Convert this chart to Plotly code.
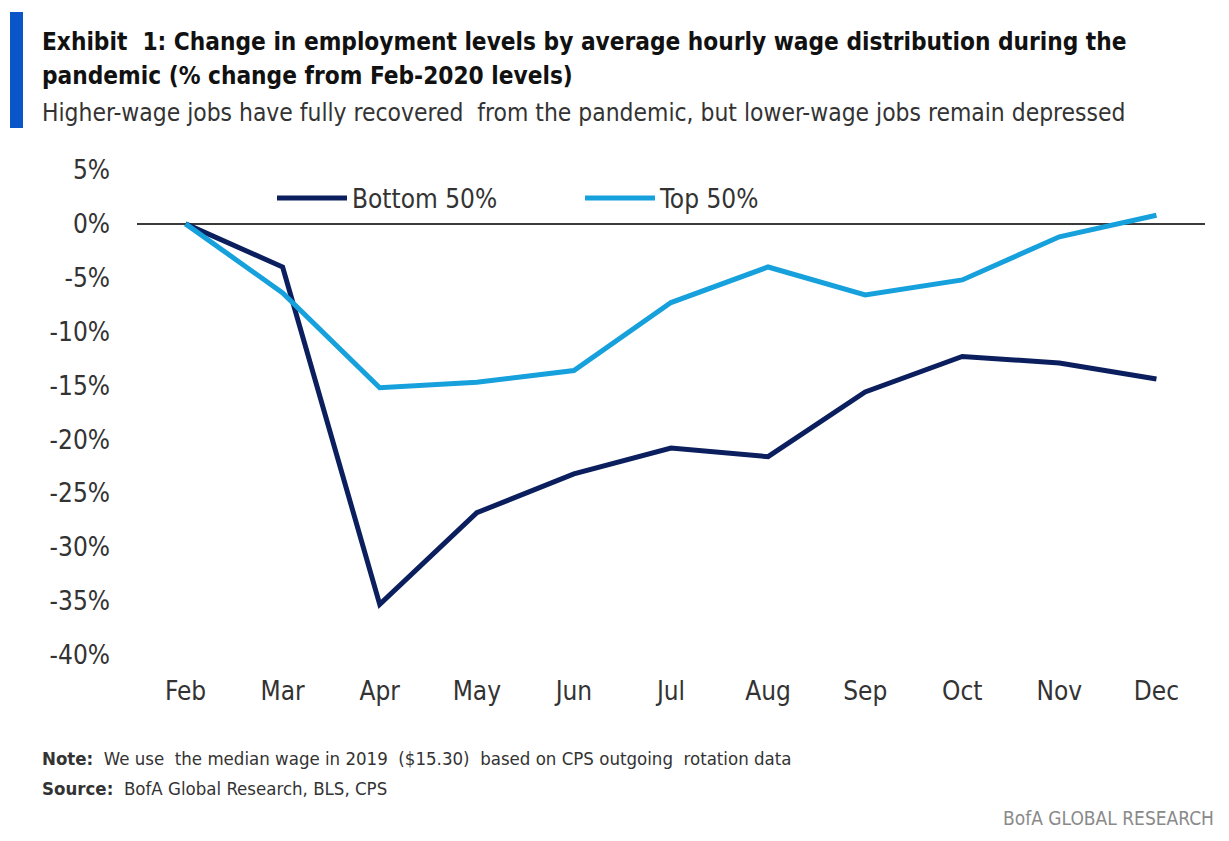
import plotly.graph_objects as go

months = ["Feb", "Mar", "Apr", "May", "Jun", "Jul", "Aug", "Sep", "Oct", "Nov", "Dec"]
bottom_50 = [0.0, -4.0, -35.3, -26.8, -23.2, -20.8, -21.6, -15.6, -12.3, -12.9, -14.4]
top_50 = [0.0, -6.4, -15.2, -14.7, -13.6, -7.3, -4.0, -6.6, -5.2, -1.2, 0.8]
y_ticks = [5, 0, -5, -10, -15, -20, -25, -30, -35, -40]
y_tick_labels = [f"{v}%" for v in y_ticks]

W, H = 1229, 841
L, R, T, B = 137, 24, 170, 186
PW, PH = W - L - R, H - T - B


def px(x):
    return (x - L) / PW


def py(y):
    return (H - B - y) / PH


FONT = "DejaVu Sans Condensed, Liberation Sans Narrow, sans-serif"
NAVY = "#0b1f5e"
LIGHT = "#16a0dc"

fig = go.Figure()
fig.add_trace(go.Scatter(x=months, y=bottom_50, mode="lines", name="Bottom 50%",
                         line=dict(color=NAVY, width=5)))
fig.add_trace(go.Scatter(x=months, y=top_50, mode="lines", name="Top 50%",
                         line=dict(color=LIGHT, width=5)))

fig.add_hline(y=0, line=dict(color="#3a3a3a", width=2), layer="below")

fig.update_layout(
    width=W, height=H,
    margin=dict(l=L, r=R, t=T, b=B),
    paper_bgcolor="white", plot_bgcolor="white",
    font=dict(family=FONT, color="#333333"),
    showlegend=True,
    legend=dict(orientation="h", x=px(272), y=py(198), xanchor="left", yanchor="middle",
                font=dict(size=26, color="#333333", family=FONT), itemwidth=70,
                bgcolor="rgba(0,0,0,0)", traceorder="normal", entrywidth=223),
    xaxis=dict(range=[-0.5, 10.5], showgrid=False, zeroline=False, showline=False,
               ticks="", tickfont=dict(size=26, color="#333333"), ticklabelstandoff=18),
    yaxis=dict(range=[-40, 5], tickvals=y_ticks, ticktext=y_tick_labels,
               showgrid=False, zeroline=False, showline=False, ticks="",
               tickfont=dict(size=26, color="#333333"), ticklabelstandoff=26),
)

# blue side bar
fig.add_shape(type="rect", xref="paper", yref="paper",
              x0=px(10), x1=px(23), y0=py(12), y1=py(128),
              fillcolor="#0a55c8", line=dict(width=0))

annots = [
    dict(x=px(40), y=py(42), text="<b>Exhibit  1: Change in employment levels by average hourly wage distribution during the</b>",
         size=24.2, color="#111111"),
    dict(x=px(40), y=py(76), text="<b>pandemic (% change from Feb-2020 levels)</b>", size=24.2, color="#111111"),
    dict(x=px(40), y=py(112), text="Higher-wage jobs have fully recovered  from the pandemic, but lower-wage jobs remain depressed",
         size=24.4, color="#333333"),
    dict(x=px(40), y=py(758), text="<b>Note:</b>  We use  the median wage in 2019  ($15.30)  based on CPS outgoing  rotation data",
         size=18.5, color="#333333"),
    dict(x=px(40), y=py(788), text="<b>Source:</b>  BofA Global Research, BLS, CPS", size=18.5, color="#333333"),
]
for a in annots:
    fig.add_annotation(x=a["x"], y=a["y"], xref="paper", yref="paper", text=a["text"],
                       showarrow=False, xanchor="left", yanchor="middle",
                       font=dict(size=a["size"], color=a["color"], family=FONT))

fig.add_annotation(x=px(1216), y=py(818), xref="paper", yref="paper", text="BofA GLOBAL RESEARCH",
                   showarrow=False, xanchor="right", yanchor="middle",
                   font=dict(size=19, color="#8a8a8a", family=FONT))

fig.write_html("out.html", config={"displayModeBar": False},
               post_script="document.body.style.margin='0';")
